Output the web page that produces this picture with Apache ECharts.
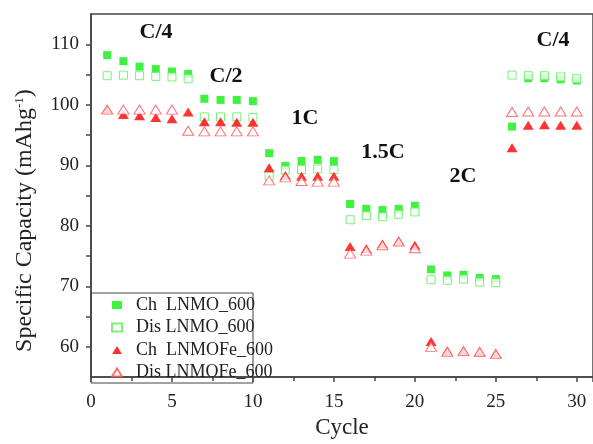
<!DOCTYPE html>
<html>
<head>
<meta charset="utf-8">
<script src="https://cdn.jsdelivr.net/npm/echarts@6/dist/echarts.min.js"></script>
<style>html,body{margin:0;padding:0;background:#fff}#c{width:593px;height:444px}</style>
</head>
<body>
<div id="c"></div>
<script>
var cycles = [1,2,3,4,5,6,7,8,9,10,11,12,13,14,15,16,17,18,19,20,21,22,23,24,25,26,27,28,29,30];
var chLNMO = [108.2,107.2,106.3,105.9,105.5,105.1,101.0,100.8,100.8,100.6,92.0,89.9,90.7,90.9,90.7,83.6,82.8,82.6,82.8,83.3,72.8,71.8,71.9,71.4,71.2,96.4,104.4,104.4,104.2,104.0];
var disLNMO = [104.8,104.9,104.8,104.7,104.6,104.3,98.0,98.0,98.0,97.9,88.2,89.2,89.3,89.4,89.3,81.0,81.7,81.5,81.9,82.3,71.1,71.0,71.2,70.7,70.6,104.9,104.8,104.8,104.6,104.3];
var chLNMOFe = [99.2,98.4,98.2,97.9,97.7,98.8,97.2,97.2,97.1,97.1,89.6,88.3,88.2,88.2,88.2,76.6,76.2,77.0,77.5,76.8,60.9,59.3,59.3,59.2,58.9,92.9,96.6,96.7,96.6,96.6];
var disLNMOFe = [99.2,99.2,99.2,99.2,99.2,95.7,95.6,95.6,95.6,95.6,87.5,88.0,87.4,87.3,87.3,75.4,75.9,76.8,77.4,76.3,60.0,59.2,59.3,59.2,58.8,98.8,98.9,98.9,98.9,98.9];
var seriesNames = ['Ch  LNMO_600','Dis LNMO_600','Ch  LNMOFe_600','Dis LNMOFe_600'];
var rateLabels = ['C/4','C/2','1C','1.5C','2C','C/4'];
var yTickLabels = [60,70,80,90,100,110];
var xTickLabels = [0,5,10,15,20,25,30];

function pairs(vals){ return cycles.map(function(c,i){ return [c, vals[i]]; }); }

var FONT = 'Liberation Serif';
var chart = echarts.init(document.getElementById('c'), null, {renderer:'canvas'});
var labelPos = [[156,32],[226,76],[305,118],[383,152],[463,176],[553,40]];

chart.setOption({
  animation:false,
  backgroundColor:'#fff',
  grid:{left:91, top:14, width:503.75, height:369, show:true, borderColor:'#444', borderWidth:1.5, containLabel:false},
  xAxis:{
    type:'value', min:0, max:31, interval:5,
    name:'Cycle', nameLocation:'middle', nameGap:37,
    nameTextStyle:{fontFamily:FONT, fontSize:23, color:'#222'},
    axisLine:{lineStyle:{color:'#444', width:1.5}},
    axisTick:{show:true, inside:false, length:5, lineStyle:{color:'#444', width:1.5}},
    minorTick:{show:true, splitNumber:2, length:4, lineStyle:{color:'#444', width:1.5}},
    axisLabel:{fontFamily:FONT, fontSize:19, color:'#222', margin:15, showMaxLabel:false,
      formatter:function(v){ return xTickLabels.indexOf(v)>=0 ? String(v) : ''; }},
    splitLine:{show:false}
  },
  yAxis:{
    type:'value', min:55, max:115, interval:5,
    name:'{a|Specific Capacity (mAhg}{s|-1}{a|)}', nameLocation:'middle', nameGap:54, nameRotate:90,
    nameTextStyle:{fontFamily:FONT, fontSize:24, color:'#222', padding:[0,50,0,0],
      rich:{a:{fontFamily:FONT, fontSize:24, color:'#222'}, s:{fontFamily:FONT, fontSize:13, color:'#222', verticalAlign:'top', padding:[0,0,10,0]}}},
    axisLine:{lineStyle:{color:'#444', width:1.5}},
    axisTick:{show:true, inside:false, length:5, lineStyle:{color:'#444', width:1.5}},
    axisLabel:{fontFamily:FONT, fontSize:19, color:'#222', margin:12, showMinLabel:false, showMaxLabel:false,
      formatter:function(v){ return yTickLabels.indexOf(v)>=0 ? String(v) : ''; }},
    splitLine:{show:false}
  },
  legend:{
    orient:'vertical', left:106, top:291, itemWidth:10, itemHeight:8, itemGap:4.5,
    textStyle:{fontFamily:FONT, fontSize:18, color:'#222', lineHeight:18, padding:[0,0,0,9]},
    data:seriesNames
  },
  graphic:[
    {type:'rect', shape:{x:91, y:293, width:162, height:90}, style:{fill:'none', stroke:'#444', lineWidth:1}, z:-1}
  ].concat(rateLabels.map(function(t,i){
    return {type:'text', x:labelPos[i][0], y:labelPos[i][1], style:{text:t, fontFamily:FONT, fontSize:22, fontWeight:'bold', fill:'#111', align:'center', verticalAlign:'middle'}};
  })),
  series:[
    {name:seriesNames[0], type:'scatter', data:pairs(chLNMO), symbol:'rect', symbolSize:8, itemStyle:{color:'#11ee11'}, z:2},
    {name:seriesNames[1], type:'scatter', data:pairs(disLNMO), symbol:'rect', symbolSize:8, itemStyle:{color:'#fff', borderColor:'#55f055', borderWidth:1}, z:3},
    {name:seriesNames[2], type:'scatter', data:pairs(chLNMOFe), symbol:'triangle', symbolSize:[11,9], itemStyle:{color:'#ff0000'}, z:4},
    {name:seriesNames[3], type:'scatter', data:pairs(disLNMOFe), symbol:'triangle', symbolSize:[11,9], itemStyle:{color:'#fff', borderColor:'#ff4d4d', borderWidth:1}, z:5}
  ]
});
</script>
</body>
</html>
